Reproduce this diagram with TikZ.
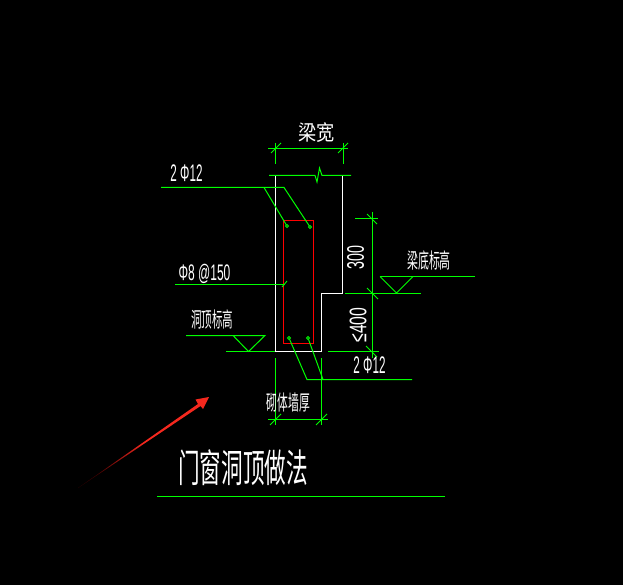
\documentclass[tikz,border=0pt]{standalone}
\usepackage{fontspec}
\setmainfont{Liberation Sans}
\newfontfamily\cjk{Noto Sans CJK SC}
\definecolor{cadgreen}{RGB}{0,255,0}
\definecolor{cadred}{RGB}{255,0,0}
\definecolor{arrowred}{RGB}{245,40,30}
\newcommand{\squeezed}[3]{\scalebox{#1}[#2]{#3}}
\tikzset{
  grn/.style={draw=cadgreen,line width=1pt},
  wall/.style={draw=white,line width=1pt},
  rebar/.style={draw=cadred,line width=1.1pt},
  tickm/.style={draw=cadgreen,line width=.9pt},
  bar/.style={draw=cadgreen,line width=.9pt,fill=black},
  lbl/.style={text=white,inner sep=0pt,font=\fontsize{15}{15}\selectfont},
  cjklbl/.style={text=white,inner sep=0pt,font=\cjk\fontsize{14}{14}\selectfont},
}
\begin{document}
\begin{tikzpicture}[x=1pt,y=-1pt]
\fill[black] (0,0) rectangle (623,585);
\useasboundingbox (0,0) rectangle (623,585);
% wall outline
\draw[wall] (275.5,176) -- (275.5,351.5) -- (321.5,351.5) -- (321.5,293.5) -- (342.5,293.5) -- (342.5,175);
% stirrup
\draw[rebar] (283.5,220.5) -- (283.5,343.5) -- (313.5,343.5) -- (313.5,220.5) -- cycle;
% break line
\draw[grn] (269,175.5) -- (315,175.5) -- (317,182) -- (319.5,168) -- (322,175.5) -- (351,175.5);
% top dimension
\draw[grn] (268,148.5) -- (348,148.5);
\draw[grn] (275.5,143) -- (275.5,164);
\draw[grn] (343.5,143) -- (343.5,164);
\draw[tickm] (271,153) -- (281,143);
\draw[tickm] (338,153) -- (348,143);
% upper bars leaders
\draw[grn] (161,187.5) -- (284,187.5) -- (310,227);
\draw[grn] (264,187.5) -- (287,226);
\draw[bar] (287,226) circle (1.6);
\draw[bar] (310,227) circle (1.6);
% stirrup leader
\draw[grn] (175,284.5) -- (285,284.5);
\draw[tickm] (282,287) -- (287,281);
% lintel top level
\draw[grn] (186,335.5) -- (265,335.5) -- (248.5,351.5) -- (233,335.5);
\draw[grn] (226,351.5) -- (275,351.5);
% lower bars leaders
\draw[grn] (289,338) -- (307,379.5) -- (412,379.5);
\draw[grn] (308,338) -- (323,379.5);
\draw[bar] (289,338) circle (1.6);
\draw[bar] (308,338) circle (1.6);
% wall thickness dimension
\draw[grn] (275.5,358) -- (275.5,425);
\draw[grn] (321.5,358) -- (321.5,425);
\draw[grn] (268,419.5) -- (328,419.5);
\draw[tickm] (270,425) -- (281,414);
\draw[tickm] (316,425) -- (327,414);
% right dimension
\draw[grn] (372.5,212) -- (372.5,358);
\draw[grn] (355,218.5) -- (378,218.5);
\draw[grn] (345,293.5) -- (421,293.5);
\draw[grn] (328,351.5) -- (379,351.5);
\draw[tickm] (367,214) -- (377,224);
\draw[tickm] (367,288) -- (378,299);
\draw[tickm] (366,346) -- (377,357);
% beam bottom level
\draw[grn] (380,276.5) -- (475,276.5);
\draw[grn] (380,276.5) -- (396.5,293) -- (413,276.5);
% title line
\draw[grn] (157,496.5) -- (445,496.5);
% red arrow
\shade[bottom color=black!75!red,top color=arrowred,middle color=arrowred,shading angle=-55]
  (78,488) -- (198,404) -- (195.5,399.5) -- (209,397) -- (203,409) -- (200.5,406) -- cycle;
% labels
\node[cjklbl] (beamw) at (316.5,132.5) {\squeezed{1.3}{1.5}{梁宽}};
\node[lbl] (tbar) at (186.5,173) {\squeezed{.78}{1.6}{2 Φ12}};
\node[lbl] (stir) at (204.5,274) {\squeezed{.8}{1.5}{Φ8 @150}};
\node[cjklbl] (toplevel) at (212,319.5) {\squeezed{.75}{1.5}{洞顶标高}};
\node[cjklbl] (botlevel) at (429,261) {\squeezed{.78}{1.5}{梁底标高}};
\node[cjklbl] (wallt) at (288.5,402) {\squeezed{.77}{1.5}{砌体墙厚}};
\node[lbl] (bbar) at (369.5,365.5) {\squeezed{.78}{1.6}{2 Φ12}};
\node[lbl,rotate=90] (d300) at (355.5,257.5) {\squeezed{.95}{1.6}{300}};
\node[lbl,rotate=90] (d400) at (358,325) {\squeezed{1.05}{1.6}{≤400}};
\node[text=white,inner sep=0pt,font=\cjk\fontsize{21}{21}\selectfont] (title) at (243,467.5) {\squeezed{1.03}{1.85}{门窗洞顶做法}};
\end{tikzpicture}
\end{document}
